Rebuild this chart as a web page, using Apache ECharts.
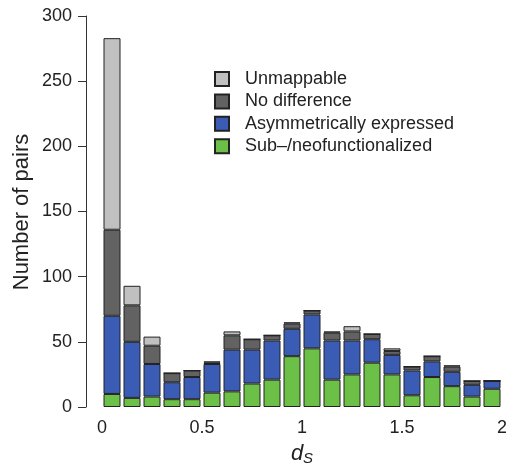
<!DOCTYPE html>
<html>
<head>
<meta charset="utf-8">
<script src="https://cdn.jsdelivr.net/npm/echarts@6/dist/echarts.min.js"></script>
<style>html,body{margin:0;padding:0;background:#fff;}#c{width:506px;height:464px;}</style>
</head>
<body>
<div id="c"></div>
<script>
// d_S bins (width 0.1), labelled by lower edge
const bins = ['0.0','0.1','0.2','0.3','0.4','0.5','0.6','0.7','0.8','0.9','1.0','1.1','1.2','1.3','1.4','1.5','1.6','1.7','1.8','1.9'];
const subNeo   = [10, 7, 8, 6, 6,11,12,18,21,39,45,21,25,34,25, 9,23,16, 8,14];
const asym     = [60,43,25,13,17,22,32,26,30,21,26,30,26,18,15,19,12,11, 9, 6];
const noDiff   = [66,28,14, 7, 5, 1,11, 8, 4, 4, 3, 6, 7, 4, 3, 3, 4, 4, 3, 0];
const unmap    = [147,15,7, 0, 0, 1, 3, 0, 0, 1, 0, 1, 4, 0, 2, 0, 0, 1, 0, 0];
const seriesNames = ['Sub\u2013/neofunctionalized','Asymmetrically expressed','No difference','Unmappable'];
const legendOrder = ['Unmappable','No difference','Asymmetrically expressed','Sub\u2013/neofunctionalized'];
const xTicks = [0, 0.5, 1, 1.5, 2];
const yTicks = [0, 50, 100, 150, 200, 250, 300];

const colors = ['#6cbf47', '#3b5cb5', '#626262', '#c0c0c0'];
const values = [subNeo, asym, noDiff, unmap];

const chart = echarts.init(document.getElementById('c'), null, {renderer: 'canvas'});
const font = 'Liberation Sans, Arial, Helvetica, sans-serif';
chart.setOption({
  backgroundColor: '#ffffff',
  animation: false,
  grid: {left: 102, right: 4, top: 16, bottom: 57, containLabel: false, outerBoundsMode: 'none'},
  legend: {
    data: legendOrder,
    orient: 'vertical',
    left: 209, top: 65,
    itemWidth: 14, itemHeight: 14, itemGap: 4.4,
    icon: 'rect',
    textStyle: {fontFamily: font, fontSize: 18, color: '#222', padding: [0,0,0,11]}
  },
  xAxis: [{
    type: 'category', data: bins, boundaryGap: true,
    axisLine: {show: false}, axisTick: {show: false}, axisLabel: {show: false}, splitLine: {show: false}
  }, {
    type: 'value', min: 0, max: 2, interval: 0.5, position: 'bottom',
    axisLine: {show: false}, axisTick: {show: false}, splitLine: {show: false},
    axisLabel: {
      margin: 12, fontFamily: font, fontSize: 18, color: '#222',
      formatter: v => (xTicks.indexOf(v) >= 0 ? String(v) : '')
    },
    name: '{d|d}{s|S}', nameLocation: 'middle', nameGap: 34,
    nameTextStyle: {
      rich: {
        d: {fontFamily: font, fontStyle: 'italic', fontSize: 22, color: '#222'},
        s: {fontFamily: font, fontStyle: 'italic', fontSize: 15, color: '#222', verticalAlign: 'bottom', padding: [10,0,0,0]}
      }
    }
  }],
  yAxis: {
    type: 'value', min: 0, max: 300, interval: 50, offset: 16,
    axisLine: {show: true, onZero: false, lineStyle: {color: '#333', width: 1}},
    axisTick: {show: true, length: 8, lineStyle: {color: '#333'}},
    splitLine: {show: false},
    axisLabel: {margin: 14, fontFamily: font, fontSize: 18, color: '#222',
      formatter: v => (yTicks.indexOf(v) >= 0 ? String(v) : '')}
  },
  graphic: [{
    type: 'text', x: 22, y: 212, rotation: Math.PI / 2,
    style: {text: 'Number of pairs', font: '22px ' + font, fill: '#222', textAlign: 'center', textVerticalAlign: 'middle'}
  }],
  series: seriesNames.map((n, i) => ({
    name: n, type: 'bar', stack: 'total', barWidth: 17, xAxisIndex: 0,
    itemStyle: {color: colors[i], borderColor: '#222', borderWidth: 1},
    data: values[i]
  }))
});
</script>
</body>
</html>
